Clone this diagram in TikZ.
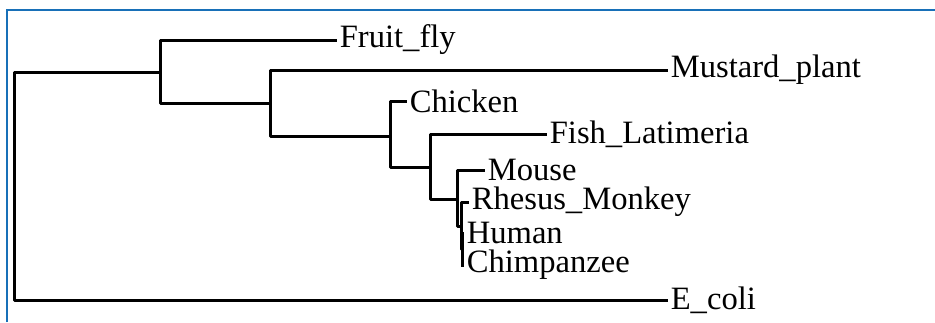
\documentclass[tikz,border=0pt]{standalone}
\usepackage{fontspec}
\setmainfont{Liberation Serif}
\usetikzlibrary{positioning,calc}
\definecolor{panelblue}{RGB}{24,112,184}

\begin{document}
\begin{tikzpicture}[x=0.5pt,y=-0.5pt,
  branch/.style={line width=1.5pt, line join=round, line cap=rect},
  leaf/.style={
    anchor=west, inner xsep=2.2pt, inner ysep=0pt,
    font=\fontsize{16.3}{19}\selectfont
  },
  panel/.style={draw=panelblue, line width=0.75pt}
]
\useasboundingbox (0,0) rectangle (935,322);

% Frame of the panel
\draw[panel] (7,322) -- (7,10) -- (935,10);

% Internal nodes
\coordinate (root) at (14,186);
\coordinate (n1) at (160,72);
\coordinate (n2) at (270,103);
\coordinate (n3) at (390,136);
\coordinate (n4) at (430,167);
\coordinate (n5) at (457,199);
\coordinate (n6) at (461,226);
\coordinate (n7) at (462,249);

% Leaves
\node[leaf] (fly)     at (335,40)  {Fruit\_fly};
\node[leaf] (mustard) at (666,70)  {Mustard\_plant};
\node[leaf] (chicken) at (405,101) {Chicken};
\node[leaf] (fish)    at (545,134) {Fish\_Latimeria};
\node[leaf] (mouse)   at (483,170) {Mouse};
\node[leaf] (rhesus)  at (467,202) {Rhesus\_Monkey};
\node[leaf] (human)   at (462,233) {Human};
\node[leaf] (chimp)   at (462,265) {Chimpanzee};
\node[leaf] (ecoli)   at (666,300) {E\_coli};

% Branches between internal nodes
\foreach \p/\c in {root/n1, n1/n2, n2/n3, n3/n4, n4/n5, n5/n6, n6/n7} {
  \draw[branch] (\p) |- (\c);
}

% Branches to leaves
\foreach \p/\c in {root/ecoli, n1/fly, n2/mustard, n3/chicken, n4/fish,
                   n5/mouse, n6/rhesus, n7/human, n7/chimp} {
  \draw[branch] (\p) |- (\c.west);
}

\end{tikzpicture}
\end{document}
